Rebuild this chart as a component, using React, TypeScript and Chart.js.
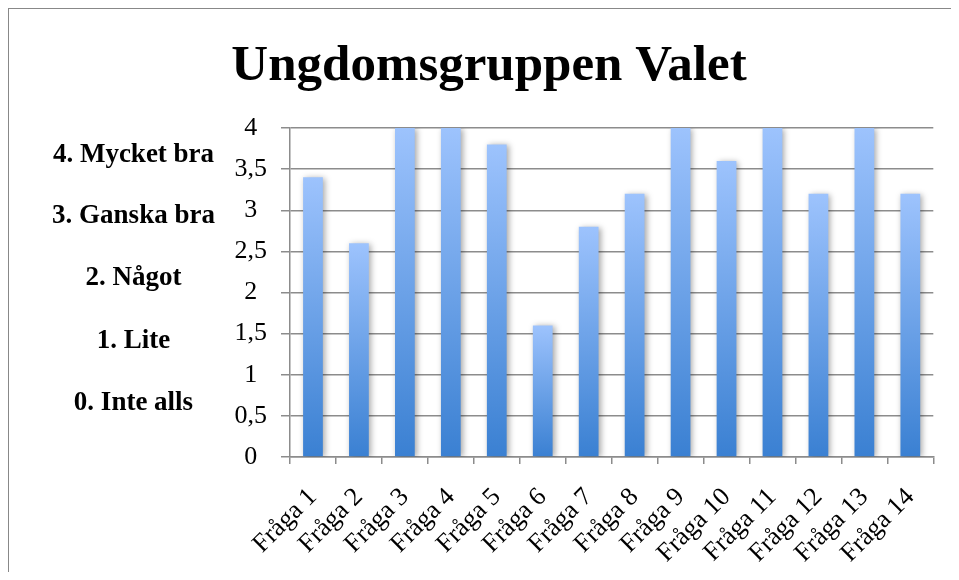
import React, { useEffect, useRef } from "react";
import { Chart, registerables } from "chart.js";

Chart.register(...registerables);

const chartTitle = "Ungdomsgruppen Valet";
const categories = [
  "Fråga 1", "Fråga 2", "Fråga 3", "Fråga 4", "Fråga 5", "Fråga 6", "Fråga 7",
  "Fråga 8", "Fråga 9", "Fråga 10", "Fråga 11", "Fråga 12", "Fråga 13", "Fråga 14",
];
const values = [3.4, 2.6, 4, 4, 3.8, 1.6, 2.8, 3.2, 4, 3.6, 4, 3.2, 4, 3.2];
const scaleLabels = ["4. Mycket bra", "3. Ganska bra", "2. Något", "1. Lite", "0. Inte alls"];
const scaleLabelBaselines = [153, 214, 276, 339, 401];
const yMin = 0;
const yMax = 4;
const yStep = 0.5;

const FONT = "'Liberation Serif', 'Times New Roman', serif";

export default function App() {
  const canvasRef = useRef<HTMLCanvasElement | null>(null);

  useEffect(() => {
    const canvas = canvasRef.current;
    if (!canvas) return;

    const shadowPlugin = {
      id: "barShadow",
      beforeDatasetsDraw(chart: any) {
        const c = chart.ctx;
        c.save();
        c.shadowColor = "rgba(0,0,0,0.35)";
        c.shadowBlur = 6;
        c.shadowOffsetX = 2;
        c.shadowOffsetY = 1;
      },
      afterDatasetsDraw(chart: any) {
        chart.ctx.restore();
      },
    };

    const textPlugin = {
      id: "extraText",
      afterDraw(chart: any) {
        const c = chart.ctx;
        c.save();
        c.fillStyle = "#000";
        c.textAlign = "center";
        c.textBaseline = "alphabetic";
        c.font = `bold 51px ${FONT}`;
        c.fillText(chartTitle, 480, 71);
        c.font = `bold 27px ${FONT}`;
        scaleLabels.forEach((t, i) => {
          c.fillText(t, 124.5, scaleLabelBaselines[i]);
        });
        c.restore();
      },
    };

    const chart = new Chart(canvas, {
      type: "bar",
      data: {
        labels: categories,
        datasets: [
          {
            data: values,
            backgroundColor: (ctx: any) => {
              const ch = ctx.chart;
              if (!ch.chartArea || ctx.type !== "data") return "#7aaaf0";
              const ys = ch.scales.y;
              const top = ys.getPixelForValue(ctx.raw);
              const bot = ys.getPixelForValue(0);
              const g = ch.ctx.createLinearGradient(0, top, 0, bot);
              g.addColorStop(0, "#9dc3fd");
              g.addColorStop(1, "#3a80d2");
              return g;
            },
            borderWidth: 0,
            categoryPercentage: 1,
            barPercentage: 0.43,
          },
        ],
      },
      options: {
        responsive: false,
        animation: false,
        layout: { padding: { left: 0, right: 17, top: 119, bottom: 0 } },
        plugins: {
          legend: { display: false },
          title: { display: false },
          tooltip: { enabled: false },
        },
        scales: {
          x: {
            offset: true,
            grid: {
              display: true,
              drawOnChartArea: false,
              drawTicks: true,
              tickLength: 7,
              color: "#8c8c8c",
              lineWidth: 1.5,
              offset: true,
            },
            border: { display: true, color: "#8c8c8c", width: 1.5 },
            ticks: {
              autoSkip: false,
              minRotation: 45,
              maxRotation: 45,
              padding: 18,
              color: "#000",
              font: { family: FONT, size: 26 },
            },
            afterFit(scale: any) {
              scale.height = 115;
            },
          },
          y: {
            min: yMin,
            max: yMax,
            grid: {
              color: "#8c8c8c",
              lineWidth: 1.5,
              drawTicks: true,
              tickLength: 9,
            },
            border: { display: true, color: "#8c8c8c", width: 1.5 },
            ticks: {
              stepSize: yStep,
              padding: 14,
              crossAlign: "center",
              color: "#000",
              font: { family: FONT, size: 26 },
              callback: (v: any) => String(v).replace(".", ","),
            },
            afterFit(scale: any) {
              scale.width = 281;
            },
          },
        },
      },
      plugins: [shadowPlugin, textPlugin],
    } as any);

    return () => chart.destroy();
  }, []);

  return (
    <div
      style={{
        position: "relative",
        width: 943,
        height: 564,
        boxSizing: "border-box",
        borderTop: "1px solid #888",
        borderLeft: "1px solid #888",
        background: "#fff",
      }}
    >
      <canvas ref={canvasRef} width={942} height={563} style={{ display: "block" }} />
    </div>
  );
}
